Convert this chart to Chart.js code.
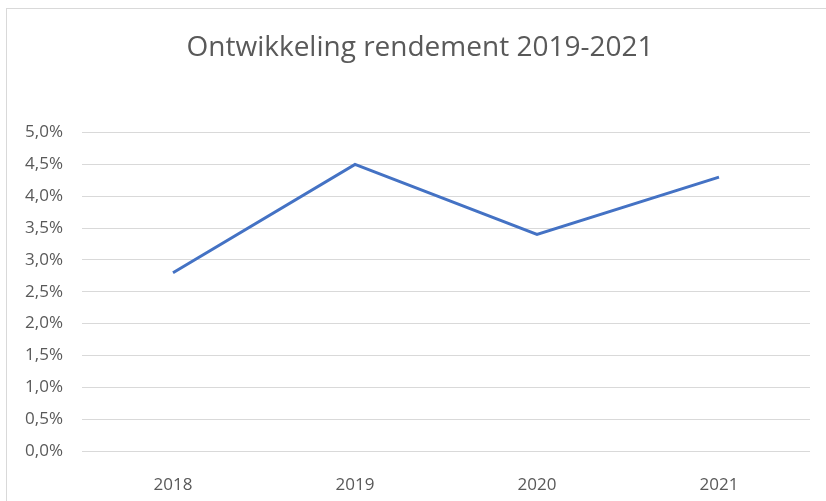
<!DOCTYPE html>
<html>
<head>
<meta charset="utf-8">
<script src="https://cdn.jsdelivr.net/npm/chart.js@4"></script>
<style>
  html, body { margin: 0; padding: 0; background: #fff; overflow: hidden; }
  #frame { position: absolute; left: 6px; top: 8px; width: 840px; height: 520px; border: 1px solid #d9d9d9; }
  #wrap { position: absolute; left: 0; top: 0; width: 840px; height: 501px; }
</style>
</head>
<body>
<div id="frame"></div>
<div id="wrap"><canvas id="rendementChart"></canvas></div>
<script>
const jaren = ['2018', '2019', '2020', '2021'];
const rendement = [2.8, 4.5, 3.4, 4.3];

const ctx = document.getElementById('rendementChart').getContext('2d');
new Chart(ctx, {
  type: 'line',
  data: {
    labels: jaren,
    datasets: [{
      label: 'Rendement',
      data: rendement,
      yAxisID: 'y',
      borderColor: '#4472C4',
      borderWidth: 3,
      pointRadius: 0,
      tension: 0,
      fill: false
    }]
  },
  options: {
    responsive: true,
    maintainAspectRatio: false,
    animation: false,
    layout: { padding: 0 },
    plugins: {
      legend: { display: false },
      tooltip: { enabled: false },
      title: {
        display: true,
        text: 'Ontwikkeling rendement 2019-2021',
        color: '#595959',
        font: { family: 'Open Sans', size: 28, weight: 'normal', lineHeight: 1.2 },
        padding: { top: 31, bottom: 68 }
      }
    },
    scales: {
      x: {
        offset: true,
        grid: { display: false },
        border: { display: false },
        ticks: { color: '#595959', font: { family: 'Open Sans', size: 17 }, padding: 16 },
        afterFit: s => { s.height = 50; }
      },
      y: {
        min: 0,
        max: 5,
        grid: { color: '#d9d9d9', drawTicks: false },
        border: { display: false },
        ticks: {
          stepSize: 0.5,
          color: '#595959',
          font: { family: 'Open Sans', size: 17 },
          padding: 19,
          callback: v => v.toFixed(1).replace('.', ',') + '%'
        },
        afterFit: s => { s.width = 82; }
      },
      // lege rechteras als marge, zodat de titel net als in Excel iets rechts van het midden staat
      rechts: {
        position: 'right',
        grid: { display: false },
        border: { display: false },
        ticks: { display: false },
        afterFit: s => { s.width = 30; }
      }
    }
  }
});
</script>
</body>
</html>
